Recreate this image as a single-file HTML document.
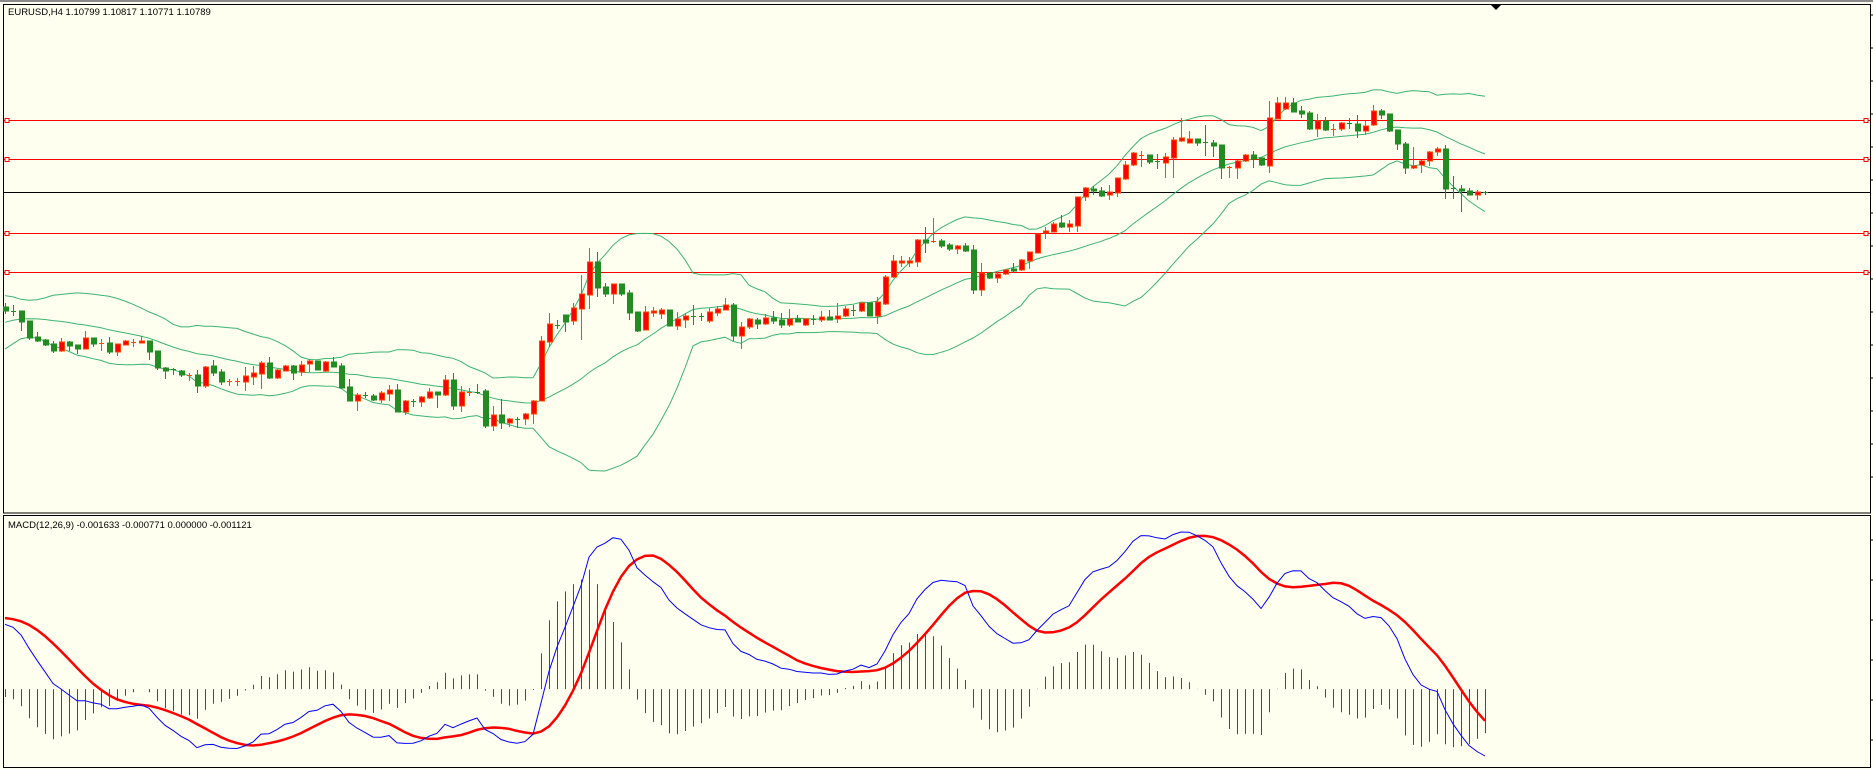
<!DOCTYPE html>
<html><head><meta charset="utf-8"><style>
html,body{margin:0;padding:0;background:#fffff0;}
svg{display:block;}
text{font-family:"Liberation Sans",sans-serif;font-size:9.5px;fill:#000;}
</style></head><body>
<svg id="chart" width="1873" height="769" viewBox="0 0 1873 769" xmlns="http://www.w3.org/2000/svg">
<rect x="0" y="0" width="1873" height="769" fill="#fffff0"/>
<rect x="0" y="0" width="1873" height="2" fill="#8a8a8a"/>
<rect x="3.5" y="4.5" width="1867" height="508.5" fill="none" stroke="#000" stroke-width="1"/>
<rect x="3.5" y="515.5" width="1867" height="252" fill="none" stroke="#000" stroke-width="1"/>
<g id="ticks"></g>
<g id="levels"></g>
<g id="bands"></g>
<g id="candles"></g>
<g id="macd"></g>
<polygon points="1491,5 1501,5 1496,10" fill="#000"/>
<text x="8" y="15">EURUSD,H4  1.10799 1.10817 1.10771 1.10789</text>
<text x="8" y="528">MACD(12,26,9) -0.001633 -0.000771 0.000000 -0.001121</text>
</svg>
<script>
// price data in half-pip points above BASE
const BASE = 1.0935, STEP = 0.00005;
const warmup = [95,98,100,103,105,108,110,112,115,117,118,120,121,122,123,124,125,126,127,128,
125,128,132,137,142,147,151,154,157,160,162,164,166,167,168,169,170,170,170,170];
const opens = [173,169,169,159,143,140,136,129,138,135,131,142,136,137,128,135,137,137,139,129,
112,111,109,104,105,94,114,108,98,98,98,103,106,117,102,109,114,108,116,119,
109,118,114,93,79,85,84,80,86,90,68,79,78,82,88,85,100,74,87,88,
89,54,65,57,61,61,66,79,138,155,165,159,171,185,218,193,186,196,187,168,
150,167,166,170,154,160,164,164,159,167,170,175,144,153,160,156,162,160,155,161,
155,161,160,163,161,164,170,169,177,164,176,203,217,217,218,240,238,239,235,231,
234,230,190,207,202,206,211,210,219,227,247,248,257,253,254,283,291,289,285,287,
301,315,324,325,319,317,322,339,337,341,338,337,335,312,312,319,325,322,314,361,
371,377,369,367,351,359,350,351,357,356,349,355,369,366,350,336,312,315,319,328,
331,292,291,289,285,288];
const highs = [177,175,169,159,148,141,139,142,139,135,149,142,141,143,136,140,141,144,139,129,
113,112,110,107,110,114,120,111,101,102,113,114,119,123,111,115,115,119,121,119,
119,123,117,101,87,88,86,89,95,96,80,81,84,92,88,105,107,94,92,96,
91,74,81,62,63,67,80,144,167,160,165,177,205,232,228,197,196,196,190,168,
174,173,172,170,168,167,175,167,172,174,182,177,158,162,162,166,169,167,171,165,
161,165,169,170,177,174,175,178,177,183,205,225,224,223,241,253,262,241,237,235,
237,235,217,208,208,210,217,221,228,247,253,258,265,260,283,293,294,293,295,302,
319,328,329,325,326,327,343,362,349,341,355,340,335,314,320,326,329,322,379,383,
383,382,374,369,366,363,356,358,362,365,359,375,371,366,350,338,333,320,329,333,
335,304,295,292,290,289];
const lows = [166,164,149,140,138,134,127,128,129,126,131,133,129,126,124,135,133,137,120,110,
101,105,103,99,87,92,104,95,94,94,89,95,91,101,101,109,100,104,108,110,
108,113,92,79,69,82,79,77,79,68,65,73,73,81,72,84,70,68,84,86,
52,49,51,53,52,55,56,79,133,151,148,155,140,171,183,183,176,184,160,148,
150,163,161,154,150,152,155,159,157,164,170,139,131,151,151,155,156,152,153,158,
154,155,158,160,157,163,164,168,164,156,175,202,213,213,213,227,237,232,229,226,
228,186,184,201,197,205,207,209,211,227,241,248,252,248,248,279,285,283,280,283,
300,314,313,316,311,302,302,338,337,334,324,323,301,302,301,318,312,314,307,361,
370,368,362,350,343,349,344,349,351,342,345,354,361,348,330,306,311,307,314,324,
281,281,268,285,280,285];
const closes = [169,169,158,142,139,135,129,138,134,131,142,136,137,128,136,139,138,139,128,112,
109,111,105,105,94,113,107,98,99,99,104,107,117,102,110,114,107,115,119,110,
118,113,92,79,85,84,80,87,90,68,79,79,83,88,85,100,74,88,88,88,
54,65,57,61,61,66,79,139,156,155,158,172,186,218,192,186,196,186,167,149,
168,169,170,154,161,164,164,163,168,171,175,144,153,161,156,162,159,155,161,158,
161,161,163,160,164,171,170,177,164,178,203,219,219,219,240,237,239,234,231,234,
229,190,207,202,206,210,209,220,228,246,249,256,253,256,283,292,289,284,288,302,
315,327,325,318,318,323,340,342,341,337,337,334,312,313,319,325,321,315,362,377,
377,368,366,351,359,350,351,357,356,349,354,369,365,349,336,312,314,319,328,331,
291,291,289,285,288,287];
// horizontal level prices
const redLevels = [1.1115, 1.10955, 1.10585, 1.1039];
const bidLevel = 1.10789;

const NS = "http://www.w3.org/2000/svg";
const price = q => BASE + q * STEP;
const yP = p => 480 - (p - BASE) / STEP;
const xB = i => 5 + 8 * i;
function mk(tag, attrs, parent){ const e=document.createElementNS(NS,tag); for(const k in attrs) e.setAttribute(k,attrs[k]); parent.appendChild(e); return e; }

// ticks
const tg = document.getElementById('ticks');
for(let y=15;y<510;y+=33){ const t=mk('line',{x1:1871,x2:1873,y1:y,y2:y,stroke:'#000'},tg);

 }
for(let y=540;y<766;y+=40){ const t=mk('line',{x1:1871,x2:1873,y1:y,y2:y,stroke:'#000'},tg);

 }

// levels
const lg = document.getElementById('levels');
redLevels.forEach(p=>{ const y=Math.round(yP(p))+0.5;
  const l=mk('line',{x1:4,x2:1870,y1:y,y2:y,stroke:'#ff0000','stroke-width':1},lg);
  
  
  [5,1864].forEach(x=>{ const s=mk('rect',{x:x,y:y-2,width:4,height:4,fill:'#fffff0',stroke:'#ff0000','stroke-width':1},lg);
    
     });
});
{ const y=Math.round(yP(bidLevel))+0.5;
  const l=mk('line',{x1:4,x2:1870,y1:y,y2:y,stroke:'#000','stroke-width':1},lg);
  
   }

// full close series (warmup + visible)
const all = warmup.concat(closes).map(price);
const W = warmup.length, N = closes.length;

// Bollinger 20,2
const bg = document.getElementById('bands');
const up=[],mid=[],lo=[];
for(let i=0;i<N;i++){ const k=W+i; const s=all.slice(k-19,k+1); const m=s.reduce((a,b)=>a+b,0)/20;
  const sd=Math.sqrt(s.reduce((a,b)=>a+(b-m)*(b-m),0)/20); up.push(m+2*sd); mid.push(m); lo.push(m-2*sd); }
[[up,'bb-upper'],[mid,'bb-middle'],[lo,'bb-lower']].forEach(([arr,nm])=>{
  const d=arr.map((v,i)=>(i?'L':'M')+xB(i)+','+yP(v).toFixed(1)).join(' ');
  const p=mk('path',{d:d,fill:'none',stroke:'#3cb371','stroke-width':1},bg);
  
  
});

// candles
const cg = document.getElementById('candles');
for(let i=0;i<N;i++){
  const x=xB(i), o=yP(price(opens[i])), c=yP(price(closes[i])), h=yP(price(highs[i])), l=yP(price(lows[i]));
  const bull = closes[i] > opens[i];
  const wick = bull ? '#ff4500' : '#228b22';
  const g=mk('g',{},cg);
  
  
  mk('line',{x1:x+0.5,x2:x+0.5,y1:h,y2:l,stroke:wick,'stroke-width':1},g);
  const top=Math.min(o,c), bh=Math.abs(o-c);
  if(bh<1.5){ mk('line',{x1:x-2,x2:x+3,y1:Math.round(top)+0.5,y2:Math.round(top)+0.5,stroke:wick,'stroke-width':1},g); }
  else mk('rect',{x:x-1.5,y:top,width:5,height:bh,fill:bull?'#ff0000':'#228b22',stroke:wick,'stroke-width':1},g);
}

// MACD 12,26,9
function ema(arr,n){ const a=2/(n+1); const out=[arr[0]]; for(let i=1;i<arr.length;i++) out.push(a*arr[i]+(1-a)*out[i-1]); return out; }
const e12=ema(all,12), e26=ema(all,26);
const mainAll=all.map((v,i)=>e12[i]-e26[i]);
const sigAll=[]; for(let i=0;i<mainAll.length;i++){ const s=mainAll.slice(Math.max(0,i-8),i+1); sigAll.push(s.reduce((a,b)=>a+b,0)/s.length); }
const main=mainAll.slice(W), sig=sigAll.slice(W), hist=main.map((v,i)=>(v-sig[i])*1.25);
const vals=main.concat(sig,hist,[0]); const mx=Math.max(...vals), mn=Math.min(...vals);
const yM = v => 532 + (mx - v) / (mx - mn) * (756 - 532);
const mg = document.getElementById('macd');
const y0 = yM(0);
for(let i=0;i<N;i++){ const b=mk('line',{x1:xB(i)+0.5,x2:xB(i)+0.5,y1:y0,y2:yM(hist[i]),stroke:hist[i]>=0?'#ff0000':'#008000','stroke-width':1},mg);
  
   }
{ const d=sig.map((v,i)=>(i?'L':'M')+xB(i)+','+yM(v).toFixed(1)).join(' ');
  const p=mk('path',{d:d,fill:'none',stroke:'#ff0000','stroke-width':2.5},mg);
  
   }
{ const d=main.map((v,i)=>(i?'L':'M')+xB(i)+','+yM(v).toFixed(1)).join(' ');
  const p=mk('path',{d:d,fill:'none',stroke:'#0000ff','stroke-width':1},mg);
  
   }
</script>
</body></html>
